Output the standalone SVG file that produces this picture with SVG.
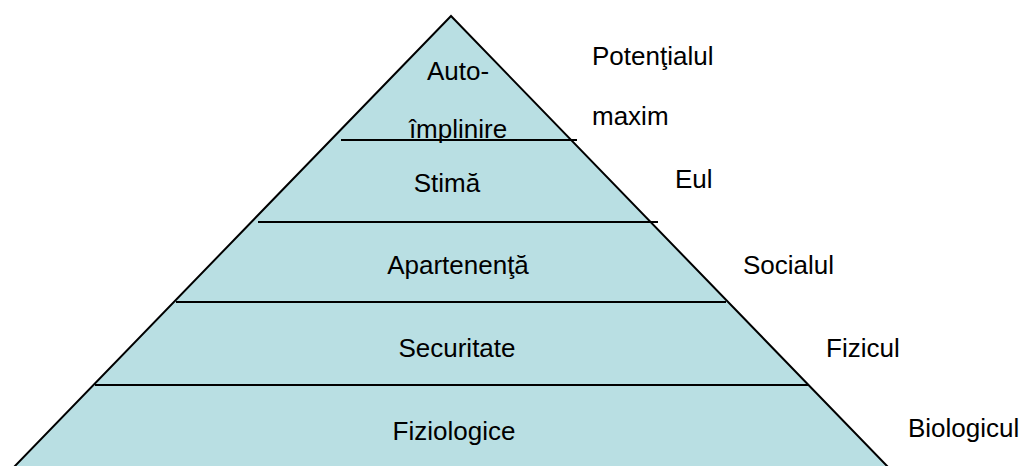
<svg xmlns="http://www.w3.org/2000/svg" width="1024" height="466" viewBox="0 0 1024 466">
<style>
text{font-family:"Liberation Sans",Arial,sans-serif;font-size:26px;fill:#000}
.c{text-anchor:middle}
.ln{stroke:#000;stroke-width:2;fill:none}
</style>
<rect width="1024" height="466" fill="#fff"/>
<g id="pyramid">
<polygon points="451,16 14,467 888,467" fill="#b9dfe3" stroke="#000" stroke-width="2"/>
</g>
<g id="connectors">
<line class="ln" x1="341" y1="140" x2="577" y2="140"/>
<line class="ln" x1="258" y1="222" x2="658" y2="222"/>
<line class="ln" x1="176" y1="302" x2="726" y2="302"/>
<line class="ln" x1="95" y1="385" x2="808" y2="385"/>
</g>
<g id="level-autoimplinire">
<text class="c" x="458" y="80">Auto-</text>
<text class="c" x="458" y="138">împlinire</text>
</g>
<g id="level-stima"><text class="c" x="447" y="192">Stimă</text></g>
<g id="level-apartenenta"><text class="c" x="458" y="274">Apartenenţă</text></g>
<g id="level-securitate"><text class="c" x="457" y="357">Securitate</text></g>
<g id="level-fiziologice"><text class="c" x="454" y="440">Fiziologice</text></g>
<g id="label-potential">
<text x="592" y="65">Potenţialul</text>
<text x="592" y="125">maxim</text>
</g>
<g id="label-eul"><text x="675" y="188">Eul</text></g>
<g id="label-socialul"><text x="743" y="274">Socialul</text></g>
<g id="label-fizicul"><text x="826" y="357">Fizicul</text></g>
<g id="label-biologicul"><text x="908" y="437">Biologicul</text></g>
</svg>
